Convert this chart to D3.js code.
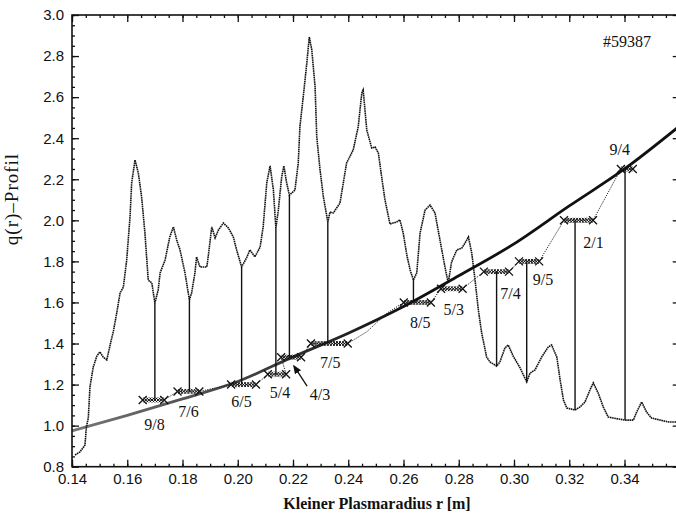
<!DOCTYPE html>
<html>
<head>
<meta charset="utf-8">
<script src="https://cdn.jsdelivr.net/npm/d3@7/dist/d3.min.js"></script>
<style>
  body { margin: 0; background: #fff; }
  svg { display: block; }
  .tick text { font-family: "Liberation Sans", Arial, sans-serif; font-size: 15px; fill: #111; }
  .serif { font-family: "Liberation Serif", "Times New Roman", serif; fill: #111; }
</style>
</head>
<body>
<svg id="chart" width="676" height="515"></svg>
<script>
// measured signal trace (r in m, plotted on the q scale)
const signalR = [0.1411, 0.1429, 0.1447, 0.1452, 0.1459, 0.1465, 0.1477, 0.1490, 0.1501, 0.1513, 0.1526, 0.1538,
  0.1550, 0.1562, 0.1574, 0.1586, 0.1598, 0.1610, 0.1616, 0.1628, 0.1640, 0.1652, 0.1664, 0.1676, 0.1689, 0.1700,
  0.1712, 0.1719, 0.1737, 0.1754, 0.1767, 0.1779, 0.1791, 0.1809, 0.1825, 0.1833, 0.1845, 0.1851, 0.1863, 0.1888,
  0.1893, 0.1906, 0.1918, 0.1930, 0.1948, 0.1966, 0.1984, 0.1996, 0.2014, 0.2032, 0.2044, 0.2062, 0.2081, 0.2092,
  0.2105, 0.2117, 0.2129, 0.2138, 0.2147, 0.2159, 0.2167, 0.2177, 0.2187, 0.2196, 0.2207, 0.2219, 0.2225, 0.2237,
  0.2250, 0.2259, 0.2268, 0.2280, 0.2286, 0.2298, 0.2310, 0.2326, 0.2334, 0.2346, 0.2370, 0.2394, 0.2418, 0.2436,
  0.2449, 0.2454, 0.2467, 0.2485, 0.2497, 0.2509, 0.2521, 0.2533, 0.2551, 0.2575, 0.2587, 0.2599, 0.2612, 0.2624,
  0.2636, 0.2648, 0.2660, 0.2678, 0.2696, 0.2714, 0.2732, 0.2750, 0.2762, 0.2774, 0.2793, 0.2811, 0.2823, 0.2835,
  0.2847, 0.2859, 0.2871, 0.2883, 0.2901, 0.2913, 0.2937, 0.2949, 0.2967, 0.2979, 0.2997, 0.3022, 0.3046, 0.3058,
  0.3076, 0.3100, 0.3124, 0.3136, 0.3155, 0.3167, 0.3179, 0.3191, 0.3221, 0.3239, 0.3257, 0.3275, 0.3287, 0.3305,
  0.3323, 0.3341, 0.3359, 0.3402, 0.3432, 0.3444, 0.3462, 0.3480, 0.3498, 0.3529, 0.3559, 0.3590];
const signalQ = [0.857, 0.872, 0.906, 0.993, 1.037, 1.188, 1.286, 1.339, 1.359, 1.334, 1.320, 1.393,
  1.461, 1.549, 1.646, 1.675, 1.807, 2.016, 2.182, 2.294, 2.231, 2.114, 1.938, 1.709, 1.695, 1.597,
  1.661, 1.744, 1.807, 1.919, 1.968, 1.904, 1.856, 1.744, 1.612, 1.646, 1.744, 1.822, 1.773, 1.773,
  1.822, 1.968, 1.914, 1.953, 1.987, 1.963, 1.919, 1.856, 1.773, 1.817, 1.856, 1.822, 1.870, 1.968,
  2.182, 2.265, 2.148, 1.963, 2.050, 2.211, 2.265, 2.182, 2.123, 2.133, 2.147, 2.279, 2.455, 2.601,
  2.766, 2.893, 2.830, 2.649, 2.406, 2.245, 2.114, 1.992, 2.040, 2.036, 2.084, 2.279, 2.343, 2.455,
  2.620, 2.635, 2.440, 2.352, 2.357, 2.328, 2.211, 2.099, 1.982, 1.992, 2.002, 1.938, 1.831, 1.758,
  1.709, 1.744, 1.938, 2.050, 2.074, 2.036, 1.904, 1.773, 1.695, 1.797, 1.856, 1.865, 1.890, 1.919,
  1.841, 1.709, 1.563, 1.451, 1.334, 1.310, 1.290, 1.310, 1.378, 1.393, 1.339, 1.281, 1.213, 1.256,
  1.271, 1.334, 1.383, 1.393, 1.334, 1.222, 1.125, 1.086, 1.076, 1.091, 1.115, 1.174, 1.208, 1.158,
  1.091, 1.042, 1.037, 1.027, 1.027, 1.066, 1.115, 1.066, 1.037, 1.027, 1.018, 1.018];

// fitted q(r) profile
const fitR = [0.14, 0.16, 0.18, 0.20, 0.22, 0.24, 0.26, 0.28, 0.30, 0.32, 0.34, 0.36];
const fitQ = [0.975, 1.05, 1.13, 1.215, 1.335, 1.45, 1.58, 1.73, 1.885, 2.07, 2.25, 2.46];

// rational surfaces: label, q = m/n, plateau extent, r of the connecting line
const rationalLabel = ["9/8", "7/6", "6/5", "5/4", "4/3", "7/5", "8/5", "5/3", "7/4", "9/5", "2/1", "9/4"];
const rationalQ = [9 / 8, 7 / 6, 6 / 5, 5 / 4, 4 / 3, 7 / 5, 8 / 5, 5 / 3, 7 / 4, 9 / 5, 2, 9 / 4];
const plateauStart = [0.1656, 0.1782, 0.1976, 0.2109, 0.2157, 0.2265, 0.2601, 0.2736, 0.2891, 0.3018, 0.3181, 0.3387];
const plateauEnd = [0.1734, 0.1861, 0.2066, 0.2175, 0.2229, 0.2398, 0.2699, 0.2814, 0.2982, 0.3091, 0.3286, 0.3430];
const lineR = [0.1700, 0.1825, 0.2014, 0.2138, 0.2187, 0.2326, 0.2636, null, 0.2937, 0.3046, 0.3221, 0.3402];

// staircase points between plateaus
const stepExtraR = [0.2467, 0.2539];
const stepExtraQ = [1.457, 1.547];

const xTickValues = [0.14, 0.16, 0.18, 0.20, 0.22, 0.24, 0.26, 0.28, 0.30, 0.32, 0.34, 0.36];
const xTickLabels = ["0.14", "0.16", "0.18", "0.20", "0.22", "0.24", "0.26", "0.28", "0.30", "0.32", "0.34", ""];
const yTickValues = [0.8, 1.0, 1.2, 1.4, 1.6, 1.8, 2.0, 2.2, 2.4, 2.6, 2.8, 3.0];

// label offsets in px from plateau centre (layout only)
const labelOffset = {
  "9/8": [1, 30], "7/6": [0, 26], "6/5": [-2, 22], "5/4": [3, 24], "4/3": [29, 43], "7/5": [1, 24],
  "8/5": [3, 26], "5/3": [2, 26], "7/4": [14, 27], "9/5": [14, 24], "2/1": [15, 28], "9/4": [-7, -14]
};

class QProfileChart {
  constructor(svg) {
    this.svg = svg;
    this.left = 72;
    this.top = 15;
    this.bottom = 466.7;

    this.x = d3.scaleLinear()
      .domain([0.14, 0.36])
      .range([this.left, this.left + 0.22 * 2762.5]);
    this.y = d3.scaleLinear()
      .domain([0.8, 3.0])
      .range([this.bottom, this.top]);

    // piecewise linear lookup of the signal
    this.signalAt = d3.scaleLinear().domain(signalR).range(signalQ);
  }

  drawAxes() {
    let svg = this.svg;
    let x = this.x, y = this.y;
    let xMinor = d3.range(0.14, 0.3601, 0.005);
    let yMinor = d3.range(0.8, 3.001, 0.05);

    let fmtX = (d, i) => xTickLabels[i];
    let fmtY = d3.format(".1f");

    // bottom
    svg.append("g")
      .attr("transform", `translate(0,${this.bottom})`)
      .call(d3.axisBottom(x).tickValues(xMinor).tickSize(-3).tickFormat(""));
    svg.append("g")
      .attr("transform", `translate(0,${this.bottom})`)
      .call(d3.axisBottom(x).tickValues(xTickValues).tickSize(-7).tickPadding(7).tickFormat(fmtX));
    // top
    svg.append("g")
      .attr("transform", `translate(0,${this.top})`)
      .call(d3.axisTop(x).tickValues(xMinor).tickSize(-3).tickFormat(""));
    svg.append("g")
      .attr("transform", `translate(0,${this.top})`)
      .call(d3.axisTop(x).tickValues(xTickValues).tickSize(-7).tickFormat(""));
    // left
    svg.append("g")
      .attr("transform", `translate(${this.left},0)`)
      .call(d3.axisLeft(y).tickValues(yMinor).tickSize(-3).tickFormat(""));
    svg.append("g")
      .attr("transform", `translate(${this.left},0)`)
      .call(d3.axisLeft(y).tickValues(yTickValues).tickSize(-7).tickPadding(8).tickFormat(fmtY));
    // right
    svg.append("g")
      .attr("transform", `translate(${x(0.36)},0)`)
      .call(d3.axisRight(y).tickValues(yMinor).tickSize(-3).tickFormat(""));
    svg.append("g")
      .attr("transform", `translate(${x(0.36)},0)`)
      .call(d3.axisRight(y).tickValues(yTickValues).tickSize(-7).tickFormat(""));

    svg.selectAll(".domain").remove();
    svg.selectAll(".tick line").attr("stroke", "#111").attr("stroke-width", 1.3);

    // frame
    svg.append("rect")
      .attr("x", this.left)
      .attr("y", this.top)
      .attr("width", x(0.36) - this.left)
      .attr("height", this.bottom - this.top)
      .attr("fill", "none")
      .attr("stroke", "#111")
      .attr("stroke-width", 1.6);

    svg.append("text")
      .attr("class", "serif")
      .attr("x", 377)
      .attr("y", 509)
      .attr("text-anchor", "middle")
      .style("font-size", "16px")
      .style("font-weight", "bold")
      .text("Kleiner Plasmaradius r [m]");

    svg.append("text")
      .attr("class", "serif")
      .attr("transform", "translate(18,199) rotate(-90)")
      .attr("text-anchor", "middle")
      .style("font-size", "19px")
      .style("letter-spacing", "1px")
      .text("q(r)\u2013Profil");

    svg.append("text")
      .attr("class", "serif")
      .attr("x", 627)
      .attr("y", 47)
      .attr("text-anchor", "middle")
      .style("font-size", "16px")
      .text("#59387");
  }

  drawSignal() {
    let pts = d3.zip(signalR, signalQ);
    this.svg.append("path")
      .datum(pts)
      .attr("d", d3.line().x(d => this.x(d[0])).y(d => this.y(d[1])))
      .attr("fill", "none")
      .attr("stroke", "#111")
      .attr("stroke-width", 1.6)
      .attr("stroke-dasharray", "1.6 0.6");
  }

  drawFit() {
    let grad = this.svg.append("defs")
      .append("linearGradient")
      .attr("id", "fitGrad")
      .attr("gradientUnits", "userSpaceOnUse")
      .attr("x1", this.x(0.14)).attr("x2", this.x(0.26))
      .attr("y1", 0).attr("y2", 0);
    grad.append("stop").attr("offset", 0).attr("stop-color", "#777");
    grad.append("stop").attr("offset", 1).attr("stop-color", "#111");

    this.svg.append("path")
      .datum(d3.zip(fitR, fitQ))
      .attr("d", d3.line().x(d => this.x(d[0])).y(d => this.y(d[1])).curve(d3.curveMonotoneX))
      .attr("fill", "none")
      .attr("stroke", "url(#fitGrad)")
      .attr("stroke-width", 2.8);
  }

  drawRationals() {
    let x = this.x, y = this.y;
    let svg = this.svg;

    // vertical connections between signal minimum and rational surface
    rationalQ.forEach((q, i) => {
      if (lineR[i] === null) return;
      svg.append("line")
        .attr("x1", x(lineR[i])).attr("x2", x(lineR[i]))
        .attr("y1", y(q)).attr("y2", y(this.signalAt(lineR[i])))
        .attr("stroke", "#111")
        .attr("stroke-width", 1.4);
    });

    // staircase (thin dotted)
    let steps = [];
    rationalQ.forEach((q, i) => {
      steps.push([plateauStart[i], q], [plateauEnd[i], q]);
      let next = plateauStart[i + 1];
      stepExtraR.forEach((r, k) => {
        if (r > plateauEnd[i] && next !== undefined && r < next) steps.push([r, stepExtraQ[k]]);
      });
    });
    svg.append("path")
      .datum(steps)
      .attr("d", d3.line().x(d => x(d[0])).y(d => y(d[1])))
      .attr("fill", "none")
      .attr("stroke", "#222")
      .attr("stroke-width", 1)
      .attr("stroke-dasharray", "1.2 1.2");

    let cross = s => `M${-s},${-s}L${s},${s}M${-s},${s}L${s},${-s}`;

    rationalQ.forEach((q, i) => {
      let x0 = x(plateauStart[i]), x1 = x(plateauEnd[i]);
      let n = Math.max(2, Math.round((x1 - x0) / 3));
      let g = svg.append("g");
      d3.range(n + 1).forEach(k => {
        let px = x0 + (x1 - x0) * k / n;
        let big = (k === 0 || k === n);
        g.append("path")
          .attr("transform", `translate(${px},${y(q)})`)
          .attr("d", cross(big ? 4 : 2.4))
          .attr("stroke", "#111")
          .attr("stroke-width", big ? 1.3 : 1)
          .attr("fill", "none");
      });
      let cx = (x0 + x1) / 2;
      let off = labelOffset[rationalLabel[i]];
      svg.append("text")
        .attr("class", "serif")
        .attr("x", cx + off[0])
        .attr("y", y(q) + off[1])
        .attr("text-anchor", "middle")
        .style("font-size", "16px")
        .text(rationalLabel[i]);

      if (rationalLabel[i] === "4/3") {
        svg.append("line")
          .attr("x1", cx + 16).attr("y1", y(q) + 29)
          .attr("x2", cx + 3).attr("y2", y(q) + 9)
          .attr("stroke", "#111")
          .attr("stroke-width", 1.3)
          .attr("marker-end", "url(#arrowHead)");
      }
    });

    svg.select("defs").append("marker")
      .attr("id", "arrowHead")
      .attr("viewBox", "0 0 10 10")
      .attr("refX", 8).attr("refY", 5)
      .attr("markerWidth", 7).attr("markerHeight", 7)
      .attr("orient", "auto")
      .append("path")
      .attr("d", "M0,1L10,5L0,9Z")
      .attr("fill", "#111");
  }
}

let chart = new QProfileChart(d3.select("#chart"));
chart.drawFit();
chart.drawSignal();
chart.drawRationals();
chart.drawAxes();
</script>
</body>
</html>
